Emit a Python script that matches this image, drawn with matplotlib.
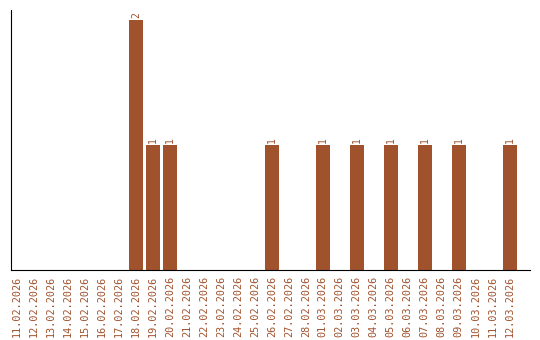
import matplotlib
matplotlib.use("Agg")
import matplotlib.pyplot as plt

dates = ["11.02.2026", "12.02.2026", "13.02.2026", "14.02.2026", "15.02.2026",
         "16.02.2026", "17.02.2026", "18.02.2026", "19.02.2026", "20.02.2026",
         "21.02.2026", "22.02.2026", "23.02.2026", "24.02.2026", "25.02.2026",
         "26.02.2026", "27.02.2026", "28.02.2026", "01.03.2026", "02.03.2026",
         "03.03.2026", "04.03.2026", "05.03.2026", "06.03.2026", "07.03.2026",
         "08.03.2026", "09.03.2026", "10.03.2026", "11.03.2026", "12.03.2026"]
counts = [0, 0, 0, 0, 0, 0, 0, 2, 1, 1,
          0, 0, 0, 0, 0, 1, 0, 0, 1, 0,
          1, 0, 1, 0, 1, 0, 1, 0, 0, 1]

color = "#A0522D"

fig = plt.figure(figsize=(5.4, 3.4), dpi=100)
ax = fig.add_axes([11 / 540, 70 / 340, 519 / 540, 260 / 340])

x = list(range(len(dates)))
ax.bar(x, counts, width=0.82, color=color)
for i, v in enumerate(counts):
    if v > 0:
        ax.text(i, v + 0.02, str(v), rotation=90, ha="center", va="bottom",
                color=color, fontsize=7, family="DejaVu Sans Mono")

ax.set_xlim(-0.35, 30.2)
ax.set_ylim(0, 2.08)
ax.set_xticks(x)
ax.set_xticklabels(dates, rotation=90, color=color, fontsize=7.3,
                   family="DejaVu Sans Mono")
ax.tick_params(axis="x", length=0, pad=4)
ax.set_yticks([])
ax.spines["top"].set_visible(False)
ax.spines["right"].set_visible(False)

fig.savefig("out.png", dpi=100)
